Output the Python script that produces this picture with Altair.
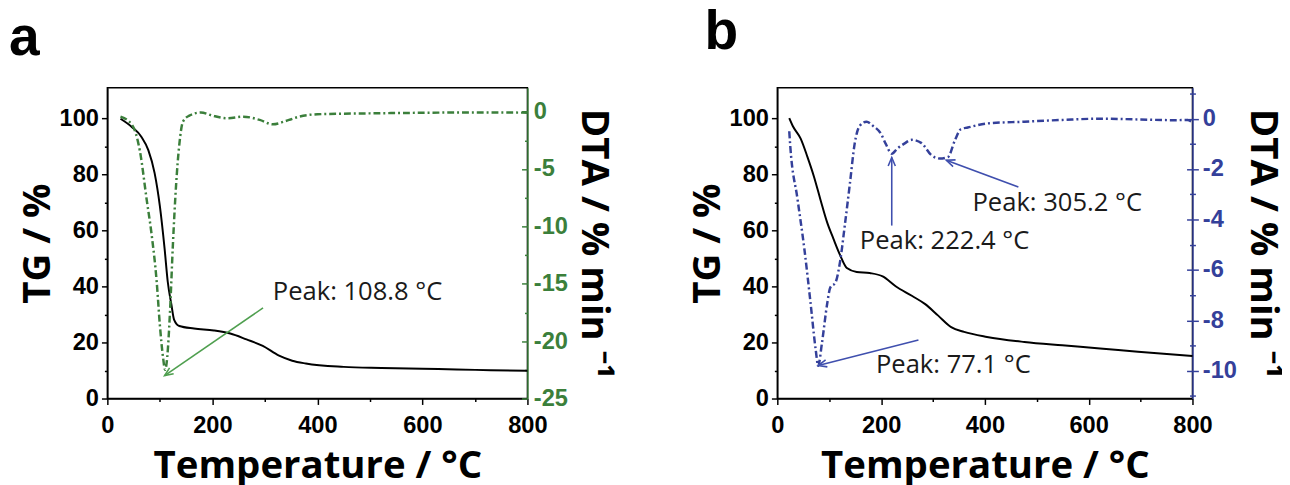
import math
import altair as alt
import pandas as pd

# ---------------- data ----------------
A_TG_T = [25, 47, 65, 78, 90, 100, 109, 115, 122, 127, 137, 165, 203, 234, 265, 296, 327, 352, 378, 450, 522, 600, 665, 730, 800]
A_TG_V = [99.9, 96.9, 93.4, 88.7, 80.5, 68.7, 53.5, 41.7, 33.5, 28.2, 25.9, 25.0, 24.3, 23.2, 21.1, 18.8, 15.3, 13.5, 12.5, 11.3, 10.9, 10.6, 10.4, 10.1, 9.9]

A_DTA_T = [25, 47, 62, 75, 84, 94, 100, 106, 110, 114, 119, 125, 131, 137, 144, 156, 178, 200, 228, 259, 290, 315, 346, 365, 400, 450, 500, 600, 700, 800]
A_DTA_V = [-0.43, -1.14, -3.43, -7.7, -10.6, -14.85, -18.6, -21.4, -22.5, -21.4, -17.7, -11.4, -6.3, -2.86, -0.86, -0.34, -0.06, -0.34, -0.57, -0.43, -0.71, -1.09, -0.71, -0.43, -0.22, -0.17, -0.14, -0.09, -0.06, -0.08]

B_TG_T = [23, 29.5, 45, 58, 70.5, 83, 96, 108, 121, 134, 153, 178, 203, 228, 260, 285, 310, 335, 360, 404, 476, 549, 622, 695, 800]
B_TG_V = [100.1, 97.4, 92.8, 86.3, 79.3, 71.1, 62.9, 57.1, 51.2, 46.6, 45.2, 44.8, 43.6, 40.1, 36.6, 33.7, 29.6, 25.5, 23.8, 22.0, 20.2, 19.0, 17.9, 16.7, 15.2]

B_DTA_T = [23, 25, 39, 52, 64, 74, 78.8, 86, 96, 102, 112, 121, 130, 140, 149, 159, 172, 184, 200, 209, 220.5, 231, 244, 259.5, 278, 297, 313, 329, 342, 354, 367, 404, 476, 549, 622, 695, 767, 790, 800]
B_DTA_V = [-0.5, -1.1, -3.2, -5.15, -7.3, -9.17, -9.8, -8.9, -7.35, -6.7, -6.5, -5.66, -4.24, -2.55, -1.0, -0.28, -0.12, -0.28, -0.61, -1.0, -1.39, -1.19, -1.0, -0.84, -0.97, -1.45, -1.58, -1.52, -0.87, -0.41, -0.35, -0.19, -0.12, -0.05, 0.0, -0.03, -0.06, -0.05, -0.15]

# annotations (text start and arrow tail -> tip, in T / DTA units)
A_TEXT = ["Peak: 108.8 °C"]
A_TEXT_T = [315]
A_TEXT_D = [-15.7]
A_TAIL_T = [296.5]
A_TAIL_D = [-17.1]
A_TIP_T = [109]
A_TIP_D = [-23.0]

B_TEXT = ["Peak: 77.1 °C", "Peak: 222.4 °C", "Peak: 305.2 °C"]
B_TEXT_T = [190, 159, 376]
B_TEXT_D = [-9.78, -4.86, -3.36]
B_TAIL_T = [272, 220.5, 464.5]
B_TAIL_D = [-8.78, -4.24, -2.71]
B_TIP_T = [78.8, 220.5, 325.7]
B_TIP_D = [-9.79, -1.54, -1.65]

X_TICKS = list(range(0, 801, 100))
TG_TICKS = list(range(0, 101, 10))
A_DTA_TICKS = [-25 + 2.5 * i for i in range(11)]
B_DTA_TICKS = list(range(-11, 2))

TG_DOMAIN = [0, 111]
A_DTA_DOMAIN = [-25, 2.1]
B_DTA_DOMAIN = [-11.1, 1.23]

GREEN = "#3b7f3b"
GREEN_ARROW = "#4f9f4f"
BLUE = "#34409a"
BLUE_ARROW = "#3f4fae"

H = 316
ARROW_PATH = "M -0.42 1 L 0 0 L 0.42 1"


def x_enc(field="T"):
    return alt.X(
        f"{field}:Q",
        scale=alt.Scale(domain=[0, 800], nice=False, zero=False),
        axis=alt.Axis(
            values=X_TICKS,
            labelExpr="datum.value % 200 === 0 ? datum.label : ''",
            tickSize={"condition": {"test": "datum.value % 200 === 0", "value": 6}, "value": 3},
            labelPadding=10,
            labelFlush=False,
            labelOverlap=False,
            title="Temperature / °C",
            titlePadding=9,
        ),
    )


def panel(letter, letter_dx, W, tgT, tgV, dT, dV, ddom, dticks, major_mod, color,
          texts, textT, textD, tailT, tailD, tipT, tipD, arrow_color, outward_right):
    tg_df = pd.DataFrame({"T": tgT, "V": tgV})
    d_df = pd.DataFrame({"T": dT, "V": dV})
    dscale = alt.Scale(domain=ddom, nice=False, zero=False)
    cond = {"condition": {"test": f"datum.value % {major_mod} === 0", "value": 6}, "value": 3}

    tg = alt.Chart(tg_df).mark_line(color="black", strokeWidth=2, interpolate="monotone").encode(
        x=x_enc(),
        y=alt.Y("V:Q", scale=alt.Scale(domain=TG_DOMAIN, nice=False, zero=False),
                axis=alt.Axis(orient="left", values=TG_TICKS,
                              labelExpr="datum.value % 20 === 0 ? datum.label : ''",
                              tickSize={"condition": {"test": "datum.value % 20 === 0", "value": 6}, "value": 3},
                              labelPadding=3, labelOverlap=False, title="TG / %", titlePadding=2)),
    )

    right_axis = dict(orient="right", values=dticks,
                      labelExpr=f"datum.value % {major_mod} === 0 ? '' + datum.value : ''",
                      labelColor=color, domainColor=color, tickColor=color,
                      labelOverlap=False, title="DTA / % min ⁻¹", titlePadding=6)
    if outward_right:
        right_axis.update(ticks=True, tickSize=cond, labelPadding=4)
    else:
        right_axis.update(ticks=False, labelPadding=6)

    dta = alt.Chart(d_df).mark_line(color=color, strokeWidth=2.5, strokeDash=[7, 3, 2, 3],
                                    interpolate="monotone").encode(
        x=x_enc(),
        y=alt.Y("V:Q", scale=dscale, axis=alt.Axis(**right_axis)),
    )

    inward = alt.Chart(d_df).mark_line(opacity=0).encode(
        x=x_enc(),
        y=alt.Y("V:Q", scale=dscale,
                axis=alt.Axis(orient="left", offset=-W, values=dticks, labels=False, domain=False,
                              tickColor=color, tickSize=cond, title=None)),
    )

    # arrows
    px_t = W / 800.0
    px_d = H / (ddom[1] - ddom[0])
    angles = []
    for a, b, c, d in zip(tailT, tailD, tipT, tipD):
        dx = (a - c) * px_t
        dy = -(b - d) * px_d
        angles.append(math.degrees(math.atan2(-dx, dy)) % 360)
    arr_df = pd.DataFrame({"T": tailT, "D": tailD, "T2": tipT, "D2": tipD, "ang": angles})

    rules = alt.Chart(arr_df).mark_rule(color=arrow_color, strokeWidth=1.6).encode(
        x=x_enc(), x2="T2:Q",
        y=alt.Y("D:Q", scale=dscale, axis=None), y2="D2:Q",
    )
    heads = alt.Chart(arr_df).mark_point(shape=ARROW_PATH, filled=False, size=300, strokeWidth=1.6,
                                         color=arrow_color, opacity=1).encode(
        x=x_enc("T2"),
        y=alt.Y("D2:Q", scale=dscale, axis=None),
        angle=alt.Angle("ang:Q", scale=None),
    )
    txt_df = pd.DataFrame({"T": textT, "D": textD, "label": texts})
    labels = alt.Chart(txt_df).mark_text(align="left", baseline="middle", font="Open Sans",
                                         fontSize=26, color="#1a1a1a").encode(
        x=x_enc(),
        y=alt.Y("D:Q", scale=dscale, axis=None),
        text="label:N",
    )

    return alt.layer(tg, dta, inward, rules, heads, labels).resolve_scale(y="independent").properties(
        width=W, height=H,
        title=alt.TitleParams(letter, anchor="start", font="Liberation Sans", fontSize=56,
                              fontWeight="bold", color="black", offset=21, dx=letter_dx),
    )


pa = panel("a", -10, 427, A_TG_T, A_TG_V, A_DTA_T, A_DTA_V, A_DTA_DOMAIN, A_DTA_TICKS, 5, GREEN,
           A_TEXT, A_TEXT_T, A_TEXT_D, A_TAIL_T, A_TAIL_D, A_TIP_T, A_TIP_D, GREEN_ARROW, False)
pb = panel("b", 16, 422, B_TG_T, B_TG_V, B_DTA_T, B_DTA_V, B_DTA_DOMAIN, B_DTA_TICKS, 2, BLUE,
           B_TEXT, B_TEXT_T, B_TEXT_D, B_TAIL_T, B_TAIL_D, B_TIP_T, B_TIP_D, BLUE_ARROW, True)

chart = alt.hconcat(pa, pb, spacing=76).properties(
    padding={"left": 0, "top": -8, "right": 0, "bottom": 0}
).configure_view(stroke="black", strokeWidth=1.5).configure_axis(
    grid=False,
    labelFont="Liberation Sans", labelFontSize=24, labelFontWeight="bold", labelColor="black",
    titleFont="Open Sans", titleFontSize=39, titleFontWeight="bold", titleColor="black",
    domainColor="black", domainWidth=1.5, tickColor="black", tickWidth=1.5,
)

chart.save("out.html", embed_options={"renderer": "svg", "actions": False})
